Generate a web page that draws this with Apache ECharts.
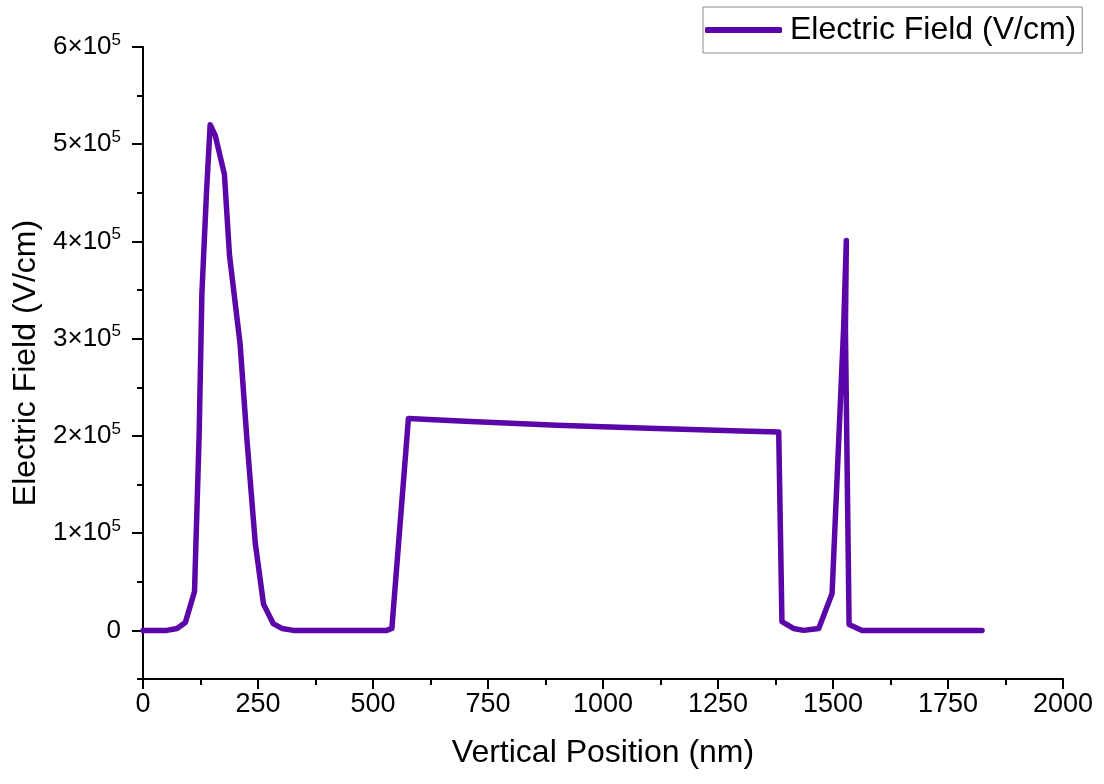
<!DOCTYPE html>
<html>
<head>
<meta charset="utf-8">
<script src="https://cdn.jsdelivr.net/npm/echarts@6/dist/echarts.min.js"></script>
<style>
html,body{margin:0;padding:0;background:#fff;}
#chart{width:1104px;height:784px;}
</style>
</head>
<body>
<div id="chart"></div>
<script>
// Data
const positionNm = [0, 52, 74, 92, 112, 122, 128, 138, 146, 157, 177, 188, 211, 226, 244, 262, 283, 302, 327, 530, 541, 577, 700, 900, 1100, 1300, 1382, 1389, 1414, 1436, 1469, 1498, 1523, 1529, 1527, 1535, 1563, 1824];
const fieldVcm   = [0, 0, 2000, 8000, 40000, 200000, 346000, 450000, 520000, 509000, 469000, 386000, 295000, 196000, 90000, 27000, 7000, 2000, 0, 0, 2000, 218000, 215000, 211000, 208000, 205000, 204000, 9000, 2000, 0, 2000, 38000, 310000, 401000, 310000, 6000, 0, 0];
const seriesName = 'Electric Field (V/cm)';
const xTitle = 'Vertical Position (nm)';
const yTitle = 'Electric Field (V/cm)';
const yMajorTicks = [0, 100000, 200000, 300000, 400000, 500000, 600000];

const lineColor = '#5b06a8';
const data = positionNm.map((x, i) => [x, fieldVcm[i]]);
const font = 'Liberation Sans, Arial, sans-serif';

const chart = echarts.init(document.getElementById('chart'), null, {renderer: 'canvas'});
chart.setOption({
  animation: false,
  backgroundColor: '#fff',
  textStyle: {fontFamily: font},
  grid: {left: 143, right: 41, top: 47, bottom: 105, containLabel: false},
  legend: {
    show: true,
    left: 703, top: 7,
    padding: [7, 6, 7, 2],
    borderColor: '#8a8a8a', borderWidth: 1,
    icon: 'roundRect',
    itemWidth: 77, itemHeight: 6, itemGap: 8,
    textStyle: {fontSize: 32, color: '#000', fontFamily: font, padding: [0, 0, 0, 3]},
    data: [{name: seriesName}]
  },
  xAxis: {
    type: 'value', min: 0, max: 2000, interval: 250,
    name: xTitle, nameLocation: 'middle', nameGap: 58,
    nameTextStyle: {fontSize: 32, color: '#000', fontFamily: font},
    axisLine: {show: true, onZero: false, lineStyle: {color: '#000', width: 2}},
    axisTick: {show: true, length: 10, lineStyle: {color: '#000', width: 2}},
    minorTick: {show: true, splitNumber: 2, length: 6, lineStyle: {color: '#000', width: 2}},
    axisLabel: {fontSize: 27, color: '#000', margin: 12, fontFamily: font, formatter: v => String(v)},
    splitLine: {show: false}, minorSplitLine: {show: false}
  },
  yAxis: [{
    type: 'value', min: -50000, max: 600000,
    name: yTitle, nameLocation: 'middle', nameGap: 100, nameRotate: 90,
    nameTextStyle: {fontSize: 32, color: '#000', fontFamily: font},
    axisLine: {show: true, onZero: false, lineStyle: {color: '#000', width: 2}},
    axisTick: {show: true, length: 11, customValues: yMajorTicks, lineStyle: {color: '#000', width: 2}},
    axisLabel: {
      customValues: yMajorTicks,
      margin: 22, color: '#000', fontSize: 26, fontFamily: font,
      formatter: v => v === 0 ? '{b|0}' : '{b|' + (v / 100000) + '×10}{s|5}',
      rich: {
        b: {fontSize: 26, color: '#000', fontFamily: font},
        s: {fontSize: 17, color: '#000', fontFamily: font, verticalAlign: 'top', padding: [0, 0, 14, 0]}
      }
    },
    splitLine: {show: false}
  }, {
    type: 'value', min: -50000, max: 600000, interval: 50000, position: 'left', offset: 0,
    axisLine: {show: false},
    axisTick: {show: true, length: 6, lineStyle: {color: '#000', width: 2}},
    axisLabel: {show: false},
    splitLine: {show: false}
  }],
  series: [{
    name: seriesName, type: 'line', yAxisIndex: 0,
    data: data, symbol: 'none', smooth: false,
    lineStyle: {color: lineColor, width: 5.5, join: 'round', cap: 'round'},
    itemStyle: {color: lineColor}
  }]
});
</script>
</body>
</html>
